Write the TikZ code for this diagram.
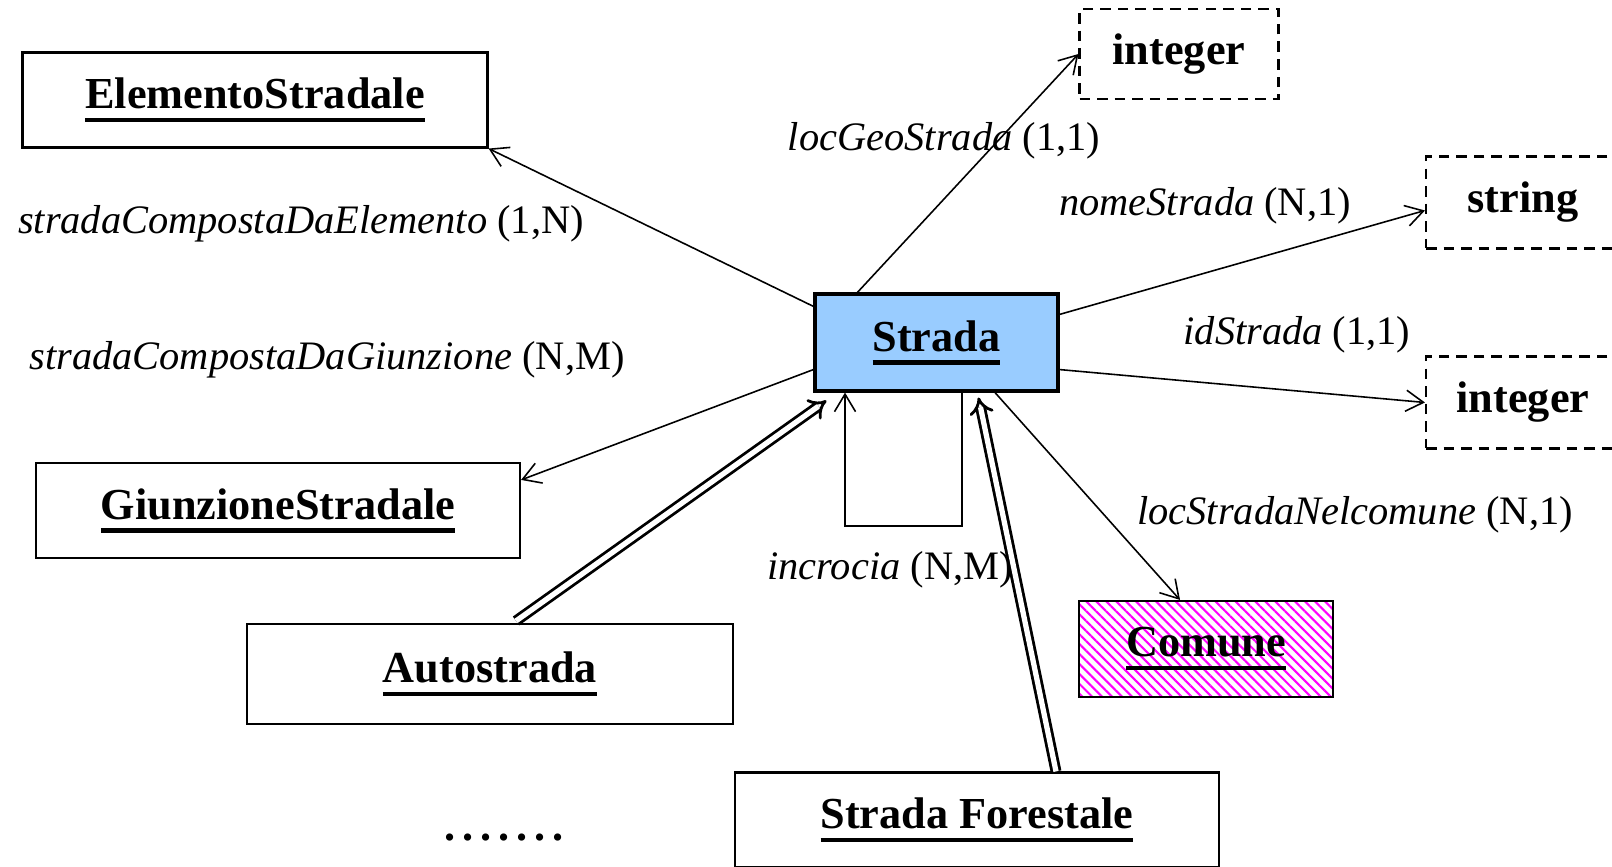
\documentclass[tikz,border=0pt]{standalone}
\usepackage{fontspec}
\setmainfont{Liberation Serif}
\usetikzlibrary{arrows.meta, calc, positioning, patterns.meta}
\definecolor{stradablue}{RGB}{153,204,255}
\newcommand{\entname}[1]{\setbox0=\hbox{\bfseries #1}\vtop{\copy0\kern2.5pt\hrule height 1.2pt width \wd0}}
\tikzset{
  ent/.style  = {draw, line width=0.6pt, minimum height=0.95cm, inner sep=0pt,
                 font=\fontsize{12.6}{15}\selectfont},
  attr/.style = {draw, dash pattern=on 3pt off 2pt, line width=0.6pt, minimum height=0.92cm,
                 inner sep=0pt, font=\bfseries\fontsize{12.6}{15}\selectfont},
  lbl/.style  = {inner sep=0pt, font=\fontsize{11.5}{13}\selectfont},
  rel/.style  = {line width=0.45pt, -{Straight Barb[length=5pt,width=6pt]}},
  isa/.style  = {double, double distance=1.5pt, line width=0.8pt, -{Implies}}
}

\begin{document}
\begin{tikzpicture}
\useasboundingbox (0,0) rectangle (16.12,8.67);
\clip (0,0) rectangle (16.12,8.67);

% Entities
\node[ent, minimum width=4.65cm] (elem) at (2.55,7.67) {\entname{ElementoStradale}};
\node[ent, minimum width=4.84cm] (giun) at (2.78,3.565) {\entname{GiunzioneStradale}};
\node[ent, minimum width=2.43cm, minimum height=0.97cm, fill=stradablue, line width=0.9pt] (strada) at (9.365,5.245) {\entname{Strada}};
\node[ent, minimum width=4.86cm, minimum height=1cm] (auto) at (4.90,1.93) {\entname{Autostrada}};
\node[ent, minimum width=4.84cm] (forest) at (9.77,0.47) {\entname{Strada Forestale}};
\node[ent, minimum width=2.54cm, minimum height=0.96cm,
      pattern={Lines[angle=-45,distance=2pt,line width=0.6pt]}, pattern color=magenta] (comune) at (12.06,2.18) {};
\node[font=\fontsize{12.6}{15}\selectfont] at (comune) {\entname{Comune}};
\node[font=\bfseries\fontsize{12.6}{15}\selectfont] (dots) at (5.04,0.29) {.\kern2pt.\kern2pt.\kern2pt.\kern2pt.\kern2pt.\kern2pt.};

% Attribute types
\node[attr, minimum width=1.99cm, minimum height=0.90cm] (intTop) at (11.79,8.13) {integer};
\node[attr, minimum width=1.94cm] (str) at (15.23,6.645) {string};
\node[attr, minimum width=1.94cm] (intR) at (15.23,4.645) {integer};

% Relations
\draw[rel] ($(strada.north west)+(0,-0.14)$) -- (elem.south east);
\draw[rel] ($(strada.south west)+(0,0.23)$) -- ($(giun.north east)+(0,-0.18)$);
\draw[rel] ($(strada.north west)+(0.44,0)$) -- (intTop.west);
\draw[rel] ($(strada.north east)+(0,-0.22)$) -- ($(str.west)+(0,-0.08)$);
\draw[rel] ($(strada.south east)+(0,0.23)$) -- (intR.west);
\draw[rel] ($(strada.south)+(0.585,0)$) -- ($(comune.north)+(-0.26,0)$);
\draw[rel] ($(strada.south)+(0.255,0)$) |- (8.45,3.41) -- ($(strada.south)+(-0.915,0)$);

% Labels
\node[lbl] (lElem) at (3.01,6.43) {\textit{stradaCompostaDaElemento} (1,N)};
\node[lbl] (lGiun) at (3.27,5.07) {\textit{stradaCompostaDaGiunzione} (N,M)};
\node[lbl] (lGeo) at (9.44,7.26) {\textit{locGeoStrada} (1,1)};
\node[lbl] (lNome) at (12.05,6.61) {\textit{nomeStrada} (N,1)};
\node[lbl] (lId) at (12.97,5.32) {\textit{idStrada} (1,1)};
\node[lbl] (lCom) at (13.55,3.52) {\textit{locStradaNelcomune} (N,1)};
\node[lbl] (lInc) at (8.90,2.97) {\textit{incrocia} (N,M)};

% Specializations
\draw[isa] ($(auto.north)+(0.26,0.02)$) -- ($(strada.south west)+(0.13,-0.08)$);
\draw[isa] ($(forest.north)+(0.79,0)$) -- ($(strada.south)+(0.42,-0.05)$);

\end{tikzpicture}
\end{document}
